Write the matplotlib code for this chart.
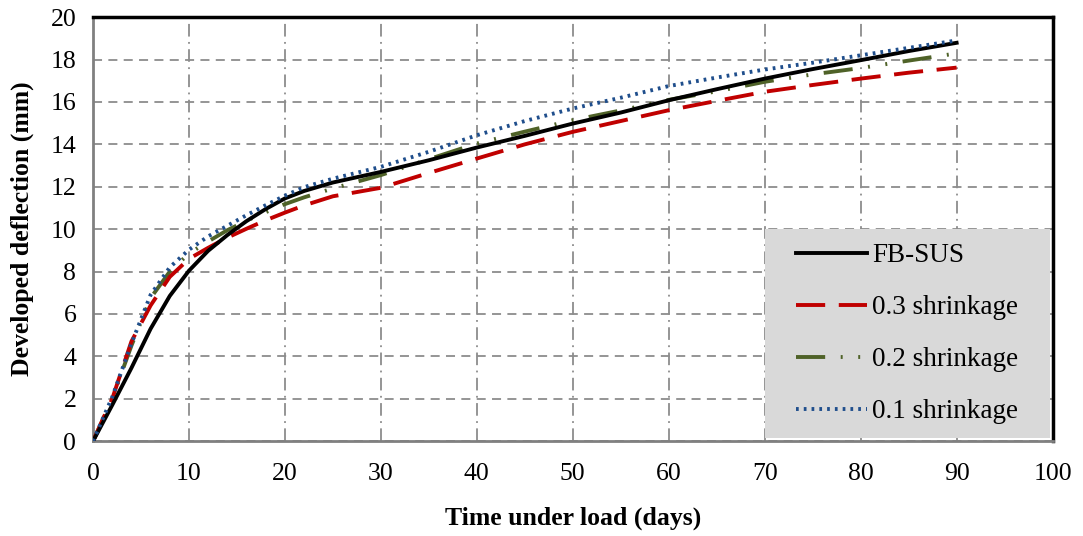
import matplotlib
matplotlib.use("Agg")
import matplotlib.pyplot as plt
from matplotlib.patches import Rectangle

# Time under load (days) and developed deflection (mm) for each beam
days = [0, 2, 4, 6, 8, 10, 12, 14, 16, 18, 20, 22, 25, 30, 35, 40, 45, 50,
        55, 60, 65, 70, 75, 80, 85, 90]
fb_sus = [0, 1.7, 3.45, 5.3, 6.85, 8.04, 8.98, 9.72, 10.38, 10.95, 11.45,
          11.8, 12.2, 12.7, 13.25, 13.85, 14.4, 14.98, 15.5, 16.08, 16.6,
          17.1, 17.55, 17.97, 18.4, 18.79]
shrink_03 = [0, 2.0, 4.7, 6.4, 7.75, 8.6, 9.12, 9.6, 10.02, 10.42, 10.78,
             11.12, 11.55, 11.95, 12.65, 13.33, 14.0, 14.59, 15.1, 15.61,
             16.05, 16.48, 16.8, 17.1, 17.38, 17.62]
shrink_02 = [0, 2.0, 4.5, 6.75, 8.0, 8.85, 9.42, 9.95, 10.4, 10.8, 11.18,
             11.5, 11.92, 12.55, 13.3, 14.04, 14.6, 15.14, 15.6, 16.1, 16.5,
             16.95, 17.3, 17.6, 17.95, 18.29]
shrink_01 = [0, 2.08, 4.6, 6.9, 8.2, 9.03, 9.66, 10.16, 10.66, 11.13, 11.58,
             11.98, 12.38, 12.94, 13.65, 14.43, 15.1, 15.69, 16.2, 16.75,
             17.15, 17.53, 17.85, 18.2, 18.55, 18.9]

labels = ["FB-SUS", "0.3 shrinkage", "0.2 shrinkage", "0.1 shrinkage"]


def main():
    plt.rcParams["font.family"] = ["Liberation Serif", "DejaVu Serif"]
    plt.rcParams["font.size"] = 18.5

    fig = plt.figure(figsize=(10.83, 5.36), dpi=100)
    ax = fig.add_axes([0.0859, 0.177, 0.886, 0.791])

    lw = 2.8
    ax.plot(days, fb_sus, color="black", lw=lw, label=labels[0], zorder=5)
    ax.plot(days, shrink_03, color="#C00000", lw=lw, dashes=(7.5, 3.5),
            label=labels[1], zorder=4)
    ax.plot(days, shrink_02, color="#4F6228", lw=lw,
            dashes=(7.5, 4, 0.5, 4, 0.5, 4), label=labels[2], zorder=3)
    ax.plot(days, shrink_01, color="#1F4E8C", lw=lw, dashes=(0.7, 1.3),
            label=labels[3], zorder=6)

    ax.set_xlim(0, 100)
    ax.set_ylim(0, 20)
    ax.set_xticks(range(0, 101, 10))
    ax.set_yticks(range(0, 21, 2))
    ax.tick_params(axis="x", length=0, pad=16)
    ax.tick_params(axis="y", length=0, pad=12)

    # grid: dashed horizontals, dash-dot verticals
    ax.yaxis.grid(True, color="#8C8C8C", lw=1.3, dashes=(5, 3.5))
    ax.xaxis.grid(True, color="#8C8C8C", lw=1.3, dashes=(7, 3, 1, 3))
    ax.set_axisbelow(True)

    for side in ["left", "bottom"]:
        ax.spines[side].set_color("#808080")
        ax.spines[side].set_linewidth(2)
    for side in ["top", "right"]:
        ax.spines[side].set_color("black")
        ax.spines[side].set_linewidth(2.5)

    ax.set_xlabel("Time under load (days)", fontweight="bold", labelpad=15)
    ax.set_ylabel("Developed deflection (mm)", fontweight="bold", labelpad=12)

    # grey panel behind the legend (wider than the legend's own padding)
    ax.add_patch(Rectangle((0.70, 0.007), 0.297, 0.493,
                           transform=ax.transAxes, facecolor="#D9D9D9",
                           edgecolor="none", zorder=9))
    leg = ax.legend(loc="center", bbox_to_anchor=(0.8485, 0.2535),
                    frameon=False, handlelength=2.6, labelspacing=1.0,
                    handletextpad=0.2, prop={"size": 19.5})
    leg.set_zorder(10)

    fig.savefig("out.png", dpi=100)


if __name__ == "__main__":
    main()
